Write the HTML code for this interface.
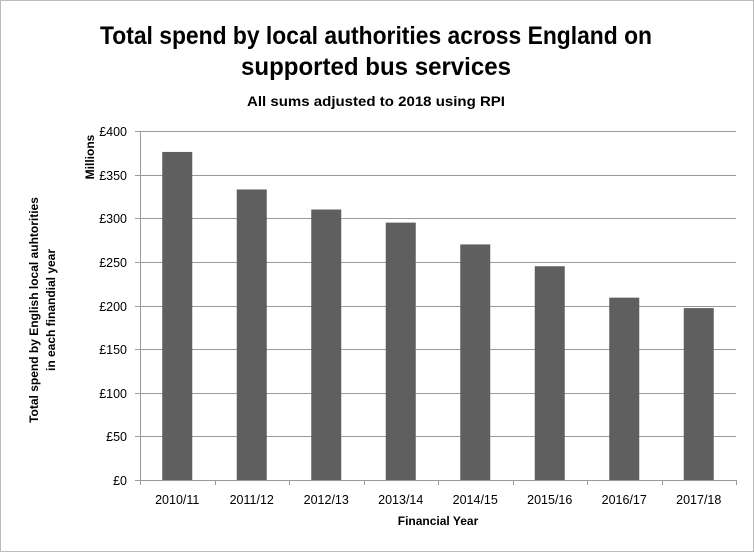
<!DOCTYPE html>
<html><head><meta charset="utf-8"><style>
body{margin:0;background:#fff;}
svg text{font-family:"Liberation Sans",sans-serif;}
</style></head><body>
<svg width="754" height="552" viewBox="0 0 754 552" xmlns="http://www.w3.org/2000/svg">
<rect x="0.5" y="0.5" width="753" height="551" fill="#fff" stroke="#bbb"/>
<text x="376" y="44" text-anchor="middle" font-size="25" font-weight="bold" fill="#000" textLength="552" lengthAdjust="spacingAndGlyphs">Total spend by local authorities across England on</text>
<text x="376" y="75" text-anchor="middle" font-size="25" font-weight="bold" fill="#000" textLength="270" lengthAdjust="spacingAndGlyphs">supported bus services</text>
<text x="376" y="106" text-anchor="middle" font-size="14" font-weight="bold" fill="#000" textLength="258" lengthAdjust="spacingAndGlyphs">All sums adjusted to 2018 using RPI</text>
<text transform="translate(94,157) rotate(-90)" text-anchor="middle" font-size="12" font-weight="bold">Millions</text>
<text transform="translate(38,310) rotate(-90)" text-anchor="middle" font-size="12" font-weight="bold">Total spend by English local auhtorities</text>
<text transform="translate(55,310) rotate(-90)" text-anchor="middle" font-size="12" font-weight="bold">in each finandial year</text>
<text x="438" y="525" text-anchor="middle" font-size="12" font-weight="bold">Financial Year</text>
<g id="grid"></g><g id="bars"></g><g id="axes"></g>
</svg>
<script>
const categories=["2010/11","2011/12","2012/13","2013/14","2014/15","2015/16","2016/17","2017/18"];
const values=[376,333,310,295,270,245,209,197];
const yTicks=[0,50,100,150,200,250,300,350,400];
const yTickLabels=["£0","£50","£100","£150","£200","£250","£300","£350","£400"];
const NS="http://www.w3.org/2000/svg";
const x0=140,x1=736,yBase=480,yTop=131,yMax=400;
const y=v=>yBase-(v/yMax)*(yBase-yTop);
const band=(x1-x0)/categories.length;
const xc=i=>x0+band*(i+0.5);
function mk(t,a,p){const e=document.createElementNS(NS,t);for(const k in a)e.setAttribute(k,a[k]);p.appendChild(e);return e;}
const grid=document.getElementById('grid'),bars=document.getElementById('bars'),axes=document.getElementById('axes');
yTicks.forEach((v,i)=>{
  const yy=Math.round(y(v))+0.5;
  if(v>0){const g=mk('line',{x1:x0,x2:x1,y1:yy,y2:yy,stroke:'#9a9a9a','stroke-width':1},grid);
  
  }
  const tk=mk('line',{x1:x0-5,x2:x0,y1:yy,y2:yy,stroke:'#9a9a9a'},axes);
  
  
  const t=mk('text',{x:x0-13,y:yy+4.5,'text-anchor':'end','font-size':12.5},axes);t.textContent=yTickLabels[i];
  
  
});
values.forEach((v,i)=>{
  const r=mk('rect',{x:xc(i)-15,y:y(v),width:30,height:yBase-y(v),fill:'#5f5f5f'},bars);
  
  
  const t=mk('text',{x:xc(i),y:504,'text-anchor':'middle','font-size':12.5},axes);t.textContent=categories[i];
  
  
});
for(let i=0;i<=categories.length;i++){
  const xx=Math.round(x0+band*i)+0.5;
  const tk=mk('line',{x1:xx,x2:xx,y1:yBase,y2:yBase+5,stroke:'#9a9a9a'},axes);
  
  
}
const ya=mk('line',{x1:x0+0.5,x2:x0+0.5,y1:yTop,y2:yBase+0.5,stroke:'#9a9a9a'},axes);


const xa=mk('line',{x1:x0,x2:x1,y1:yBase+0.5,y2:yBase+0.5,stroke:'#9a9a9a'},axes);


</script>
</body></html>
